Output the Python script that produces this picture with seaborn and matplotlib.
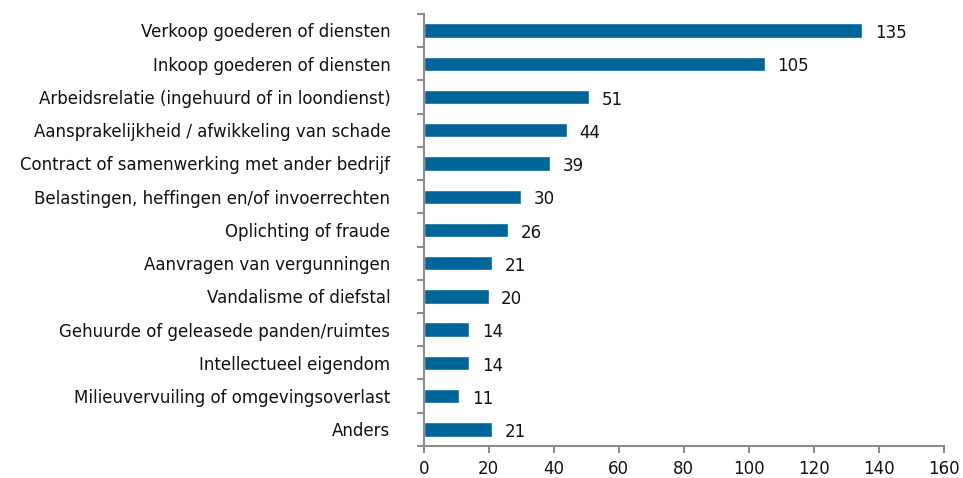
import numpy as np
import pandas as pd
import matplotlib
matplotlib.use('Agg')
import matplotlib.pyplot as plt
import seaborn as sns

categories = [
    'Verkoop goederen of diensten',
    'Inkoop goederen of diensten',
    'Arbeidsrelatie (ingehuurd of in loondienst)',
    'Aansprakelijkheid / afwikkeling van schade',
    'Contract of samenwerking met ander bedrijf',
    'Belastingen, heffingen en/of invoerrechten',
    'Oplichting of fraude',
    'Aanvragen van vergunningen',
    'Vandalisme of diefstal',
    'Gehuurde of geleasede panden/ruimtes',
    'Intellectueel eigendom',
    'Milieuvervuiling of omgevingsoverlast',
    'Anders',
]
values = [135, 105, 51, 44, 39, 30, 26, 21, 20, 14, 14, 11, 21]
x_ticks = [0, 20, 40, 60, 80, 100, 120, 140, 160]

df = pd.DataFrame({'Categorie': categories, 'Aantal': values})

sns.set_style('white')
plt.rcParams['font.family'] = ['DejaVu Sans']

fig = plt.figure(figsize=(9.63, 4.78), dpi=100)
ax = fig.add_axes([0.440, 0.067, 0.540, 0.904])

sns.barplot(data=df, x='Aantal', y='Categorie', color='#00669A',
            width=0.43, saturation=1, ax=ax)

for i, v in enumerate(values):
    ax.annotate(str(v), xy=(v, i), xytext=(9, -2), textcoords='offset points',
                ha='left', va='center', fontsize=12, color='#111111')

ax.set_xlim(0, 160)
ax.set_xticks(x_ticks)
ax.set_ylim(len(categories) - 0.5, -0.5)
ax.set_xlabel('')
ax.set_ylabel('')

ax.set_yticks(np.arange(-0.5, len(categories)), minor=True)
ax.tick_params(axis='y', which='major', left=True, length=0, pad=24,
               labelsize=12, labelcolor='#111111')
ax.tick_params(axis='y', which='minor', left=True, length=5, width=1.5,
               color='#8c8c8c', direction='out')
ax.tick_params(axis='x', bottom=True, length=5, width=1.5, color='#8c8c8c',
               direction='out', labelsize=12, labelcolor='#111111', pad=5)

for s in ['top', 'right']:
    ax.spines[s].set_visible(False)
for s in ['left', 'bottom']:
    ax.spines[s].set_color('#8c8c8c')
    ax.spines[s].set_linewidth(1.5)

plt.savefig('out.png', dpi=100)
